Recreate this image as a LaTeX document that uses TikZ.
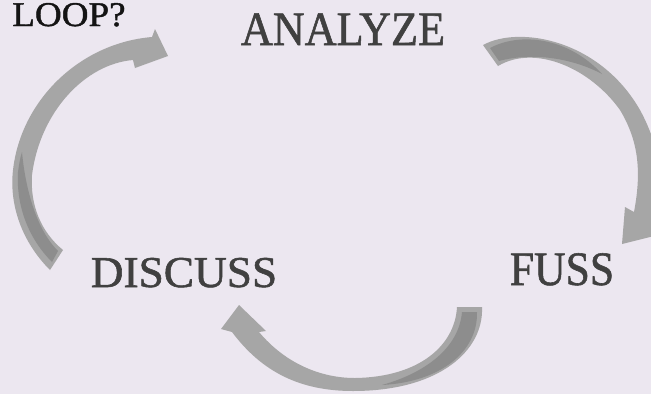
\documentclass[tikz,border=0pt]{standalone}
\usepackage{fontspec}
\setmainfont{Liberation Serif}
\newfontfamily\wordfont[FakeBold=1.2]{Liberation Serif}
\definecolor{bgcol}{RGB}{236,231,240}
\definecolor{bandgray}{RGB}{166,166,166}
\definecolor{twistgray}{RGB}{141,141,141}
\definecolor{wordgray}{RGB}{64,64,64}
\begin{document}
\begin{tikzpicture}[x=0.75pt,y=-0.75pt,
    ribbon/.style={fill=bandgray},
    twist/.style={fill=twistgray},
    word/.style={text=wordgray,inner sep=0pt,anchor=base}]
    % Background
    \fill[bgcol] (0,0) rectangle (651,394);
    \useasboundingbox (0,0) rectangle (651,394);
    \clip (0,0) rectangle (651,394);

    % Words
    \node[word, text=black!92, anchor=base west, xscale=1.07,
        font=\wordfont\fontsize{26}{26}\selectfont] (loop) at (12,26) {LOOP?};
    \node[word, xscale=0.92, font=\wordfont\fontsize{36}{36}\selectfont] (analyze) at (343,45) {ANALYZE};
    \node[word, xscale=0.91, font=\wordfont\fontsize{36}{36}\selectfont] (fuss) at (562,285) {FUSS};
    \node[word, xscale=1.03, font=\wordfont\fontsize{33}{33}\selectfont] (discuss) at (184,287) {DISCUSS};

    % Left arrow
    \fill[ribbon] (50,270) .. controls (22,242) and (9,205) .. (13,170)
        .. controls (21,100) and (80,43) .. (152,37)
        -- (155,29) -- (168,56) -- (135,68) -- (133,60)
        .. controls (85,64) and (40,112) .. (32,175)
        .. controls (30,205) and (41,232) .. (63,250) -- cycle;
    \fill[twist] (52,262) .. controls (28,238) and (16,205) .. (18,172)
        .. controls (19,165) and (20,158) .. (22,152)
        .. controls (25,185) and (35,228) .. (58,251) -- cycle;

    % Right arrow
    \fill[ribbon] (483,45) .. controls (520,25) and (600,40) .. (640,110)
        .. controls (662,150) and (666,195) .. (662,224)
        -- (670,232) -- (622,244) -- (625,207) -- (634,212)
        .. controls (642,170) and (638,140) .. (620,110)
        .. controls (590,68) and (535,44) .. (498,66) -- cycle;
    \fill[twist] (490,48) .. controls (520,32) and (568,37) .. (602,74)
        .. controls (572,58) and (532,52) .. (499,61) -- cycle;

    % Bottom arrow
    \fill[ribbon] (482,307) .. controls (484,350) and (440,391) .. (353,391)
        .. controls (300,391) and (262,372) .. (232,332)
        -- (221,329) -- (239,305) -- (266,331) -- (259,332)
        .. controls (285,363) and (320,378) .. (355,378)
        .. controls (420,377) and (455,345) .. (457,307) -- cycle;
    \fill[twist] (477,312) .. controls (478,352) and (440,382) .. (382,385)
        .. controls (425,373) and (459,348) .. (462,312) -- cycle;
\end{tikzpicture}
\end{document}
